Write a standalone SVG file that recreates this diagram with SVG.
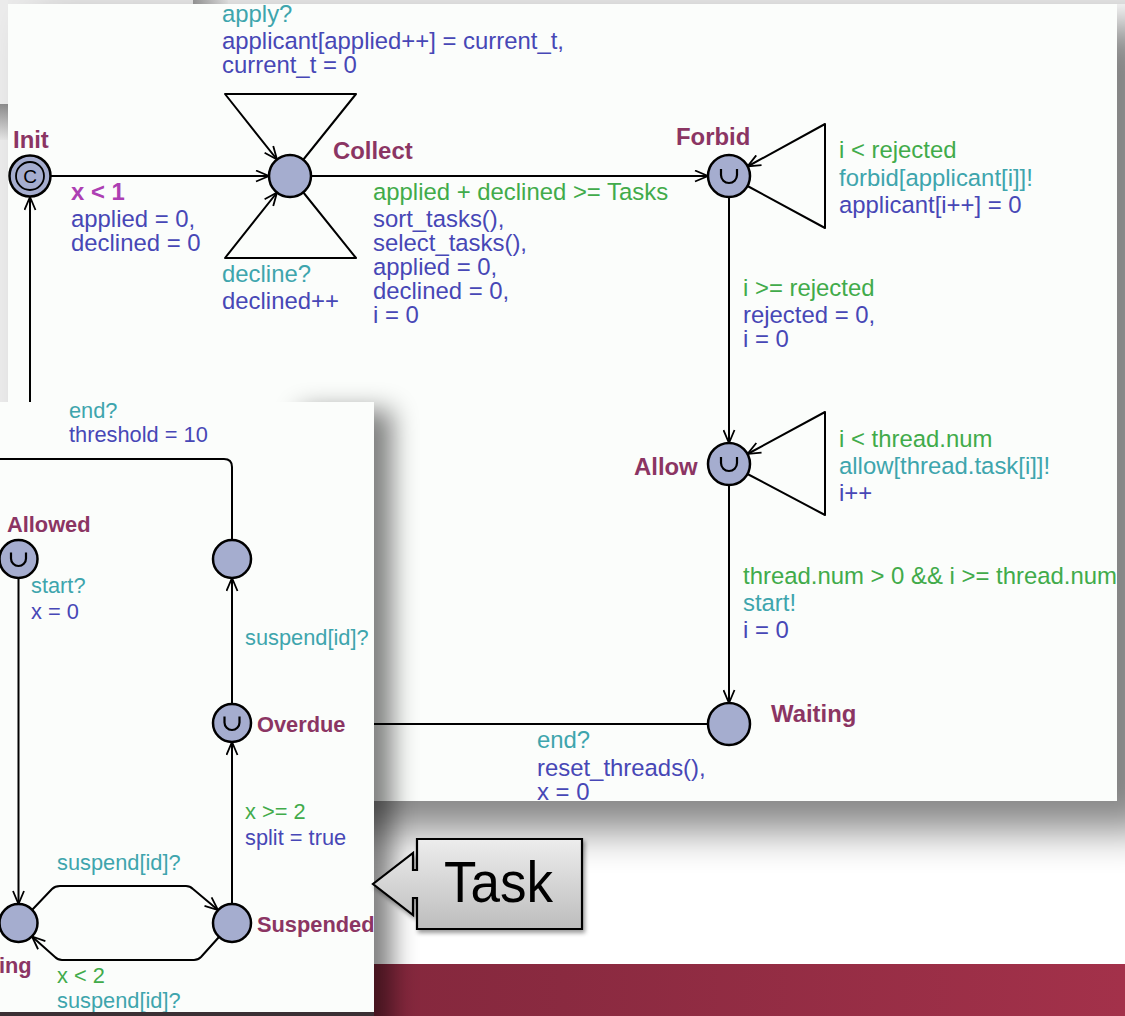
<svg xmlns="http://www.w3.org/2000/svg" width="1125" height="1016" viewBox="0 0 1125 1016">
<style>
.t{font-family:"Liberation Sans",Arial,Helvetica,sans-serif;font-size:23.9px}
.tt{font-family:"Liberation Sans",Arial,Helvetica,sans-serif;font-size:21.8px}
.g{fill:#41ab4a}.s{fill:#3ea5ad}.u{fill:#4747b6}
.n{font-weight:bold;fill:#8b3563}
.inv{font-weight:bold;fill:#ad3fb3}
.e{fill:none;stroke:#000;stroke-width:2;stroke-linejoin:round}
.loc{fill:#a5adcf;stroke:#000;stroke-width:2.5}
.urg{fill:none;stroke:#000;stroke-width:2.2}
</style>
<defs>
<marker id="arr" markerWidth="15" markerHeight="13" refX="14" refY="6.5" orient="auto" markerUnits="userSpaceOnUse">
<path d="M1,1 L14,6.5 L1,12" fill="none" stroke="#000" stroke-width="1.8"/>
</marker>
<filter id="blurA" x="-10%" y="-10%" width="120%" height="120%"><feGaussianBlur stdDeviation="21"/></filter>
<filter id="blurB" x="-60%" y="-10%" width="220%" height="120%"><feGaussianBlur stdDeviation="13"/></filter>
<filter id="ds" x="-10%" y="-10%" width="130%" height="130%"><feDropShadow dx="2" dy="3" stdDeviation="2" flood-opacity="0.4"/></filter>
<linearGradient id="maroon" x1="0" y1="0" x2="1" y2="0">
<stop offset="0" stop-color="#7a2337"/><stop offset="0.5" stop-color="#8a2a40"/><stop offset="1" stop-color="#a3314a"/>
</linearGradient>
<linearGradient id="patchV" x1="0" y1="0" x2="0" y2="1">
<stop offset="0" stop-color="#8c8c8c"/><stop offset="1" stop-color="#e6e6e6"/>
</linearGradient>
<linearGradient id="patchH" x1="0" y1="0" x2="1" y2="0">
<stop offset="0" stop-color="#9a9a9a"/><stop offset="1" stop-color="#e6e6e6"/>
</linearGradient>
<linearGradient id="callout" x1="0" y1="0" x2="0" y2="1">
<stop offset="0" stop-color="#ededed"/><stop offset="1" stop-color="#bdbdbd"/>
</linearGradient>
<clipPath id="clipMain"><rect x="8" y="4" width="1109" height="797"/></clipPath>
<clipPath id="clipTask"><rect x="0" y="402" width="374" height="610"/></clipPath>
</defs>

<!-- background -->
<rect x="0" y="0" width="1125" height="1016" fill="#ffffff"/>
<rect x="0" y="0" width="1125" height="4" fill="#e9e9e9"/>
<rect x="0" y="0" width="8" height="402" fill="#ebebeb"/>
<rect x="0" y="104" width="8" height="36" fill="url(#patchV)"/>
<rect x="193" y="0" width="35" height="4" fill="url(#patchH)"/>
<rect x="0" y="964" width="1125" height="52" fill="url(#maroon)"/>

<!-- main panel -->
<rect x="40" y="25" width="1120" height="805" fill="#000" opacity="0.48" filter="url(#blurA)"/>
<rect x="8" y="4" width="1109" height="797" fill="#fbfdfb"/>

<g clip-path="url(#clipMain)">
<g id="connectors-main">
<path class="e" d="M50,176 L269,176" marker-end="url(#arr)"/>
<path class="e" d="M311,176 L708,176" marker-end="url(#arr)"/>
<path class="e" d="M303,160 L356,94 L225,94 L277,159.5" marker-end="url(#arr)"/>
<path class="e" d="M303,192 L356,258 L225,258 L277,192.5" marker-end="url(#arr)"/>
<path class="e" d="M747.5,186 L825,228 L825,124 L747.5,166.5" marker-end="url(#arr)"/>
<path class="e" d="M729,197 L729,443" marker-end="url(#arr)"/>
<path class="e" d="M747.5,474 L825,515 L825,412 L747.5,454" marker-end="url(#arr)"/>
<path class="e" d="M729,485 L729,703" marker-end="url(#arr)"/>
<path class="e" d="M708,724 L30,724 L30,197" marker-end="url(#arr)"/>
</g>

<g id="labels-main">
<text class="t s" x="222" y="22">apply?</text>
<text class="t u" x="222" y="49">applicant[applied++] = current_t,</text>
<text class="t u" x="222" y="73">current_t = 0</text>
<text class="t inv" x="71" y="200">x &lt; 1</text>
<text class="t u" x="71" y="227">applied = 0,</text>
<text class="t u" x="71" y="251">declined = 0</text>
<text class="t s" x="222" y="282">decline?</text>
<text class="t u" x="222" y="309">declined++</text>
<text class="t g" x="373" y="200">applied + declined &gt;= Tasks</text>
<text class="t u" x="373" y="227">sort_tasks(),</text>
<text class="t u" x="373" y="251">select_tasks(),</text>
<text class="t u" x="373" y="275">applied = 0,</text>
<text class="t u" x="373" y="299">declined = 0,</text>
<text class="t u" x="373" y="323">i = 0</text>
<text class="t g" x="839" y="158">i &lt; rejected</text>
<text class="t s" x="839" y="186">forbid[applicant[i]]!</text>
<text class="t u" x="839" y="213">applicant[i++] = 0</text>
<text class="t g" x="743" y="296">i &gt;= rejected</text>
<text class="t u" x="743" y="323">rejected = 0,</text>
<text class="t u" x="743" y="347">i = 0</text>
<text class="t g" x="839" y="447">i &lt; thread.num</text>
<text class="t s" x="839" y="474">allow[thread.task[i]]!</text>
<text class="t u" x="839" y="501">i++</text>
<text class="t g" x="743" y="584">thread.num &gt; 0 &amp;&amp; i &gt;= thread.num</text>
<text class="t s" x="743" y="611">start!</text>
<text class="t u" x="743" y="638">i = 0</text>
<text class="t s" x="537" y="748">end?</text>
<text class="t u" x="537" y="776">reset_threads(),</text>
<text class="t u" x="537" y="800">x = 0</text>
</g>

<g id="Init">
<circle class="loc" cx="30" cy="176" r="20.5"/>
<circle cx="30" cy="176" r="14" fill="none" stroke="#000" stroke-width="1.8"/>
<text x="30" y="183" text-anchor="middle" style="font-family:'Liberation Sans',Arial,sans-serif;font-size:19px;fill:#000">C</text>
<text class="t n" x="13" y="148">Init</text>
</g>
<g id="Collect">
<circle class="loc" cx="290" cy="176" r="21"/>
<text class="t n" x="333" y="159">Collect</text>
</g>
<g id="Forbid">
<circle class="loc" cx="729" cy="176" r="21"/>
<path class="urg" d="M721,169 v6 a8,8 0 0 0 16,0 v-6"/>
<text class="t n" x="676" y="145">Forbid</text>
</g>
<g id="Allow">
<circle class="loc" cx="729" cy="464" r="21"/>
<path class="urg" d="M721,457 v6 a8,8 0 0 0 16,0 v-6"/>
<text class="t n" x="634" y="475">Allow</text>
</g>
<g id="Waiting">
<circle class="loc" cx="729" cy="724" r="21"/>
<text class="t n" x="771" y="722">Waiting</text>
</g>
</g>

<!-- Task panel -->
<rect x="300" y="410" width="92" height="640" fill="#000" opacity="0.5" filter="url(#blurB)"/>
<rect x="0" y="402" width="374" height="610" fill="#fbfdfb"/>
<rect x="0" y="1012" width="374" height="4" fill="#3b2f34"/>

<g clip-path="url(#clipTask)">
<g id="connectors-task">
<path class="e" d="M232,540 L232,467 Q232,459 224,459 L-5,459"/>
<path class="e" d="M18.5,578 L18.5,904" marker-end="url(#arr)"/>
<path class="e" d="M232,704 L232,578" marker-end="url(#arr)"/>
<path class="e" d="M232,904 L232,742" marker-end="url(#arr)"/>
<path class="e" d="M32,910 L52,889 Q55,886 60,886 L186,886 Q190,886 193,889 L218,910" marker-end="url(#arr)"/>
<path class="e" d="M219,937 L201,957 Q198,960 194,960 L62,960 Q58,960 55,957 L32,936.5" marker-end="url(#arr)"/>
</g>
<g id="labels-task">
<text class="tt s" x="69" y="418">end?</text>
<text class="tt u" x="69" y="442">threshold = 10</text>
<text class="tt s" x="31" y="593">start?</text>
<text class="tt u" x="31" y="619">x = 0</text>
<text class="tt s" x="245" y="645">suspend[id]?</text>
<text class="tt g" x="245" y="819">x &gt;= 2</text>
<text class="tt u" x="245" y="845">split = true</text>
<text class="tt s" x="57" y="870">suspend[id]?</text>
<text class="tt g" x="57" y="983">x &lt; 2</text>
<text class="tt s" x="57" y="1008">suspend[id]?</text>
</g>
<g id="Allowed">
<circle class="loc" cx="18.5" cy="559" r="19"/>
<path class="urg" d="M11,552.5 v6 a7.5,7.5 0 0 0 15,0 v-6"/>
<text class="tt n" x="7" y="532">Allowed</text>
</g>
<g id="Top">
<circle class="loc" cx="232" cy="559" r="19"/>
</g>
<g id="Overdue">
<circle class="loc" cx="232" cy="723" r="19"/>
<path class="urg" d="M224.5,716.5 v6 a7.5,7.5 0 0 0 15,0 v-6"/>
<text class="tt n" x="257" y="732">Overdue</text>
</g>
<g id="Running">
<circle class="loc" cx="18.5" cy="923" r="19"/>
<text class="tt n" x="-1" y="973">ing</text>
</g>
<g id="Suspended">
<circle class="loc" cx="232" cy="923" r="19"/>
<text class="tt n" x="257" y="932">Suspended</text>
</g>
</g>

<!-- Task callout -->
<g id="TaskCallout" filter="url(#ds)">
<path d="M417,839 H582 V929 H417 V898 H413 V915 L373,884 L413,853 V870 H417 Z" fill="url(#callout)" stroke="#000" stroke-width="2.2" stroke-linejoin="miter"/>
<text x="444" y="902" textLength="109" lengthAdjust="spacingAndGlyphs" style="font-family:'Liberation Sans',Arial,sans-serif;font-size:58px;fill:#000">Task</text>
</g>
</svg>
